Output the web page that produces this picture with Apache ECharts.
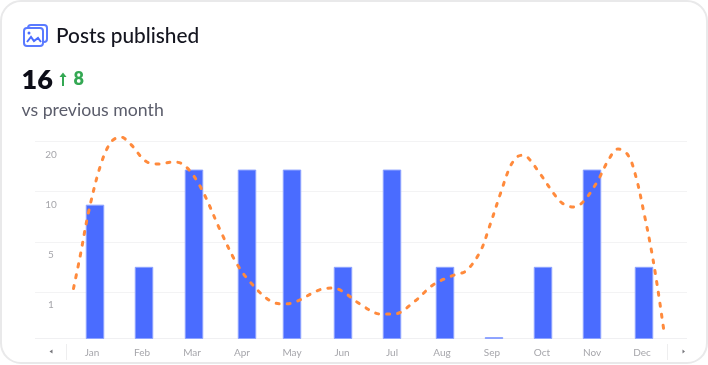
<!DOCTYPE html>
<html><head><meta charset="utf-8">
<style>html,body{margin:0;padding:0;background:#fff}#c{width:708px;height:365px}</style>
<script src="https://cdn.jsdelivr.net/npm/echarts@6/dist/echarts.min.js"></script>
</head><body><div id="c"></div>
<script>
const months = ['Jan','Feb','Mar','Apr','May','Jun','Jul','Aug','Sep','Oct','Nov','Dec'];
const monthCentres = [0.5,1.5,2.5,3.5,4.5,5.5,6.5,7.5,8.5,9.5,10.5,11.5];
const barMonth = [0.56,1.54,2.54,3.6,4.5,5.52,6.5,7.56,8.54,9.52,10.5,11.54];
const postCounts = [8.7,3,14.4,14.4,14.4,3,14.4,3,0.03,3,14.4,3];
const yTickLabels = ['1','5','10','20'];
const yStops = [1,5,10,20];
const trendMonth = [0.13,0.26,0.44,0.68,0.88,1.07,1.27,1.6,1.86,2.1,2.34,2.66,3.08,3.4,3.68,4.04,4.3,4.56,5.04,5.3,5.5,5.86,6.28,6.54,6.96,7.32,7.74,7.98,8.26,8.44,8.68,8.86,9,9.1,9.2,9.48,9.74,9.9,10.12,10.32,10.6,10.84,11.02,11.22,11.38,11.54,11.68,11.8,11.95];
const trendValue = [25.4,41.4,65.2,88.6,99.7,102.3,98.7,89.6,88.6,89.6,88.1,77.4,54.1,37.8,28.2,19.5,17.5,18.5,24.6,25.6,24.1,17.5,12.4,12.4,19,27.2,32.2,34.3,43.9,56.1,74.4,87.1,92.1,93,92.3,83,73.4,68.8,66.8,69.3,79.4,91.1,96.2,93.1,82,63.7,45.9,27.7,1.8];
const FONT = 'Lato';
const AXIS_FLOOR = 0.07;
function toStep(v){
  if (v <= yStops[0]) return AXIS_FLOOR + (1-AXIS_FLOOR)*v/yStops[0];
  for (let i=1;i<yStops.length;i++){
    if (v <= yStops[i]) return i + (v-yStops[i-1])/(yStops[i]-yStops[i-1]);
  }
  return yStops.length;
}
const chart = echarts.init(document.getElementById('c'),null,{renderer:'canvas'});
chart.setOption({
  animation:false,
  backgroundColor:'#fff',
  grid:{left:35,right:21,top:141.5,height:197,containLabel:false},
  xAxis:{type:'value',min:-0.64,max:12.4,
    axisLine:{show:false},
    axisTick:{show:false,customValues:monthCentres},
    splitLine:{show:false},
    axisLabel:{customValues:monthCentres,formatter:(v)=>months[Math.floor(v)],color:'#a6a6ab',fontSize:10,fontFamily:FONT,margin:9,hideOverlap:false}},
  yAxis:[{type:'value',min:AXIS_FLOOR,max:4,
    axisLine:{show:false},
    axisTick:{show:false,customValues:[1,2,3,4]},
    splitLine:{show:true,lineStyle:{color:'#f3f3f4',width:1}},
    axisLabel:{inside:true,customValues:[1,2,3,4],formatter:(v)=>yTickLabels[Math.round(v)-1],color:'#a6a6ab',fontSize:10,fontFamily:FONT,margin:16,align:'center',verticalAlign:'top',padding:[8,0,0,0]}},
   {type:'value',min:0,max:100,show:false}],
  series:[
    {type:'bar',yAxisIndex:0,barWidth:18.5,data:barMonth.map((m,i)=>[m,toStep(postCounts[i])]),
     itemStyle:{color:'#4a6cff',borderColor:'#8ea3ff',borderWidth:1},z:2},
    {type:'line',yAxisIndex:1,clip:false,smooth:0.35,showSymbol:false,symbol:'none',
     data:trendMonth.map((m,i)=>[m,trendValue[i]]),
     lineStyle:{color:'#ff8a3c',width:3,type:[3,8],cap:'round'},z:3}
  ],
  graphic:[
    {type:'rect',shape:{x:1,y:1,width:706,height:362,r:20},style:{fill:'none',stroke:'#e9e9ea',lineWidth:2},silent:true,z:-1},
    {type:'line',shape:{x1:35,y1:338.5,x2:687,y2:338.5},style:{stroke:'#f0f0f2',lineWidth:1},z:1},
    {type:'line',shape:{x1:66.5,y1:344,x2:66.5,y2:360},style:{stroke:'#eeeeef',lineWidth:1}},
    {type:'line',shape:{x1:667.5,y1:344,x2:667.5,y2:360},style:{stroke:'#eeeeef',lineWidth:1}},
    {type:'polygon',shape:{points:[[49.5,351.5],[52.5,349.5],[52.5,353.5]]},style:{fill:'#77777c'}},
    {type:'polygon',shape:{points:[[685,351.5],[682.5,349.5],[682.5,353.5]]},style:{fill:'#77777c'}},
    {type:'text',style:{x:56,y:36,text:'Posts published',fontFamily:FONT,fontSize:20.8,fontWeight:500,fill:'#14151f',verticalAlign:'middle'}},
    {type:'text',style:{x:21.5,y:80,text:'16',fontFamily:FONT,fontSize:27,fontWeight:800,fill:'#0d0e18',verticalAlign:'middle'}},
    {type:'text',style:{x:73.5,y:79,text:'8',fontFamily:FONT,fontSize:18,fontWeight:800,fill:'#34a853',verticalAlign:'middle'}},
    {type:'line',shape:{x1:63,y1:86,x2:63,y2:74},style:{stroke:'#34a853',lineWidth:2}},
    {type:'polygon',shape:{points:[[59.5,77],[63,72.5],[66.5,77]]},style:{fill:'#34a853'}},
    {type:'text',style:{x:21.5,y:110,text:'vs previous month',fontFamily:FONT,fontSize:17.7,fill:'#5b5d6b',verticalAlign:'middle'}},
    {type:'rect',shape:{x:28,y:25,width:19,height:17,r:3},style:{fill:'#fff',stroke:'#5a7aff',lineWidth:2}},
    {type:'rect',shape:{x:24,y:28,width:19,height:18,r:3},style:{fill:'#fff',stroke:'#5a7aff',lineWidth:2}},
    {type:'circle',shape:{cx:29,cy:33,r:1.5},style:{fill:'#4a6cff'}},
    {type:'polyline',shape:{points:[[27,42],[31,37],[34,41],[38,38],[41,42]]},style:{fill:'none',stroke:'#4a6cff',lineWidth:2}}
  ]
});
</script></body></html>
